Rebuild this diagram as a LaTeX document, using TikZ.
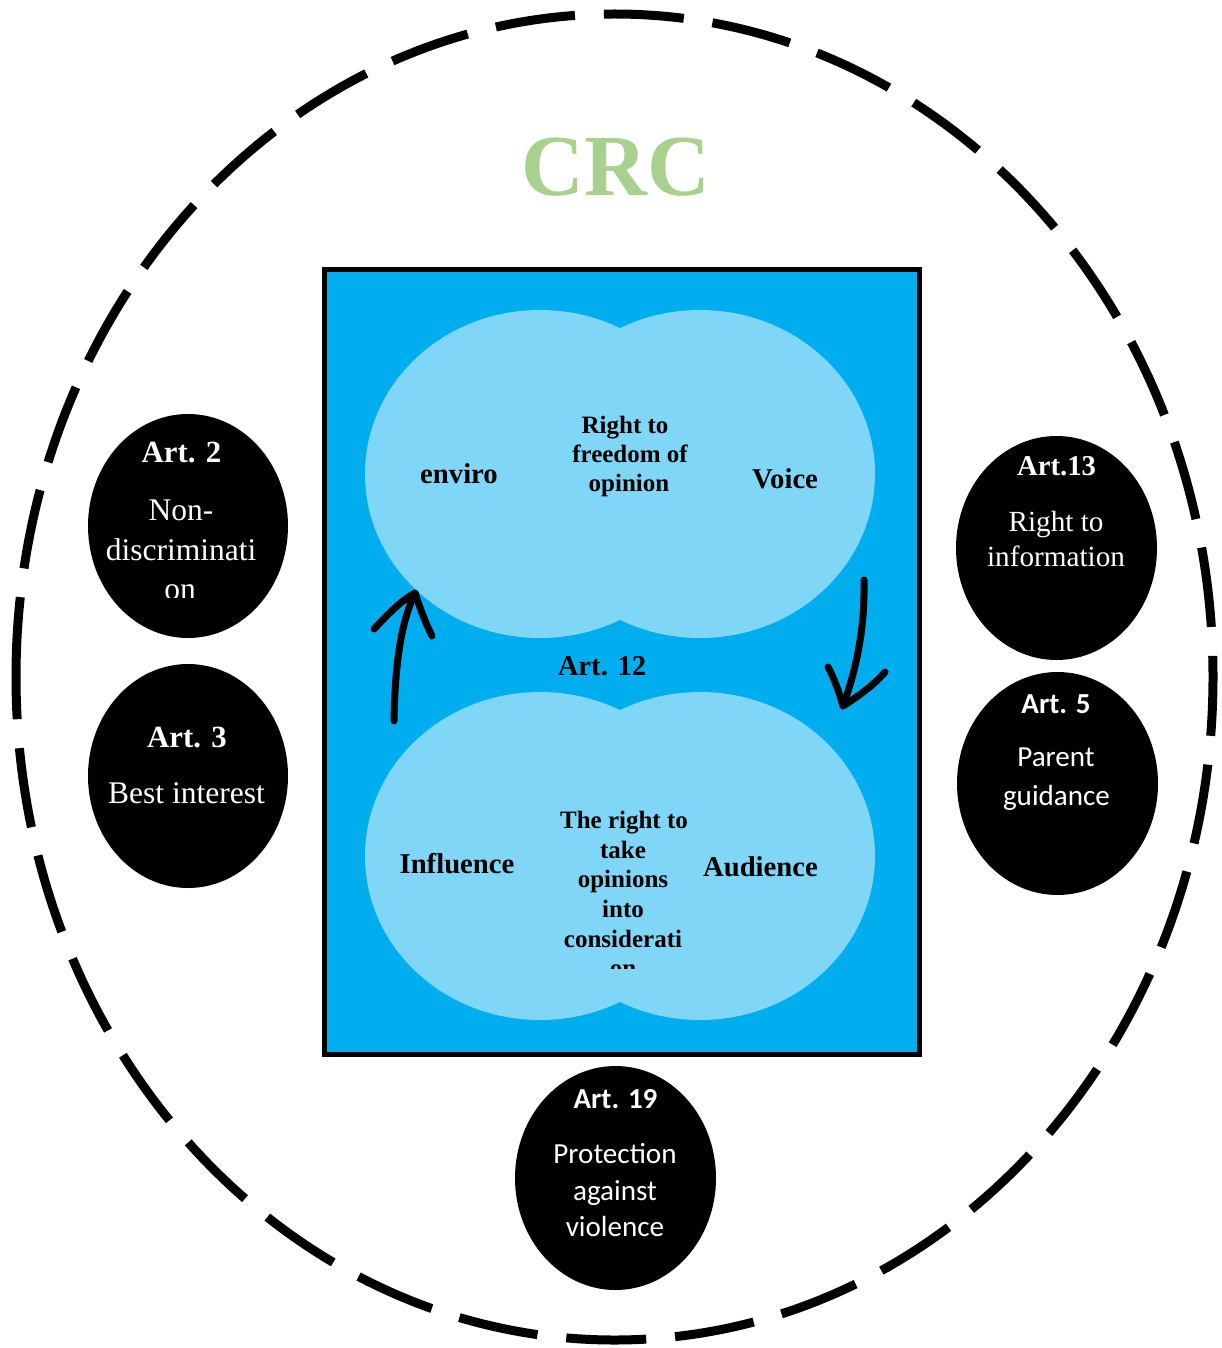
\documentclass[tikz,border=0pt]{standalone}
\usepackage{fontspec}
\setmainfont{Liberation Serif}
\newfontfamily\calibri{Carlito}
\usetikzlibrary{shapes.geometric}
\definecolor{crcgreen}{RGB}{169,209,142}
\definecolor{boxblue}{RGB}{0,174,239}
\definecolor{lobeblue}{RGB}{128,214,247}
\newcommand\fsz[1]{\fontsize{#1}{#1}\selectfont}
\tikzset{
  lobe/.style={ellipse, fill=lobeblue, minimum width=350pt, minimum height=328pt, inner sep=0pt},
  art/.style={ellipse, fill=black, inner sep=0pt},
  txt/.style={anchor=base, inner sep=0pt},
  lobebig/.style={txt, font=\bfseries\fsz{28.7}},
  lobesmall/.style={txt, font=\bfseries\fsz{25}},
  arthead/.style={txt, text=white, font=\bfseries\fsz{30.8}},
  artbody/.style={txt, text=white, font=\fsz{31.5}},
  calhead/.style={txt, text=white, font=\calibri\bfseries\fsz{29}},
  calbody/.style={txt, text=white, font=\calibri\fsz{29.1}},
  handarrow/.style={line width=7pt, line cap=round, line join=round}
}
\begin{document}
\begin{tikzpicture}[x=1pt,y=-1pt]
\useasboundingbox (0,0) rectangle (1222,1348);
\fill[white] (0,0) rectangle (1222,1348);
% outer dashed ellipse, starting at its left point and running over the top
\coordinate (ring) at (16,677);
\draw[line width=9pt, dash pattern=on 80pt off 29pt]
  (ring) arc[start angle=180, end angle=540, x radius=598.5, y radius=663];
% title
\node[txt, text=crcgreen, font=\bfseries\fsz{87}] (crc) at (616,196) {CRC};
% central box
\node[draw, line width=5pt, fill=boxblue, minimum width=595pt, minimum height=785pt, inner sep=0pt] (box) at (621.5,661.5) {};
% lobes
\node[lobe] (tl) at (540,474) {};
\node[lobe] (tr) at (700,474) {};
\node[lobe] (bl) at (540,856) {};
\node[lobe] (br) at (700,856) {};
% top lobe texts
\node[lobebig] (enviro) at (459,483) {enviro};
\node[lobesmall] (rt1) at (625,433) {Right to};
\node[lobesmall] (rt2) at (630,462.7) {freedom of};
\node[lobesmall] (rt3) at (629,491.7) {opinion};
\node[lobebig] (voice) at (785,488.5) {Voice};
\node[lobebig] (art12) at (602,675.5) {Art. 12};
% bottom lobe texts
\node[lobebig] (influence) at (457,873.7) {Influence};
\node[lobebig] (audience) at (760.5,876) {Audience};
\node[lobesmall] (tr1) at (624,828) {The right to};
\node[lobesmall] (tr2) at (623,858) {take};
\node[lobesmall] (tr3) at (623,887) {opinions};
\node[lobesmall] (tr4) at (623,917) {into};
\node[lobesmall] (tr5) at (623,947) {considerati};
\begin{scope}
\clip (540,950) rectangle (710,968);
\node[lobesmall] (tr6) at (623,976) {on};
\end{scope}
% arrows
\coordinate (la0) at (394,721);
\coordinate (lat) at (415,593);
\coordinate (lal) at (374,629);
\coordinate (lar) at (432,636);
\draw[handarrow] (la0) .. controls (395,660) and (402,620) .. (lat);
\draw[handarrow] (lal) .. controls (390,612) and (402,600) .. (lat) .. controls (420,608) and (425,622) .. (lar);
\coordinate (ra0) at (864,580);
\coordinate (rat) at (843,706);
\coordinate (ral) at (828,667);
\coordinate (rar) at (885,672);
\draw[handarrow] (ra0) .. controls (865,630) and (856,670) .. (rat);
\draw[handarrow] (ral) .. controls (835,680) and (840,695) .. (rat) .. controls (860,695) and (875,684) .. (rar);
% Art. 2
\node[art, minimum width=200pt, minimum height=224pt] (a2) at (188,526) {};
\node[arthead] (a2h) at (181.5,462.7) {Art. 2};
\node[artbody] (a2b1) at (181,520) {Non-};
\node[artbody] (a2b2) at (181,560) {discriminati};
\begin{scope}
\clip (100,570) rectangle (270,597);
\node[artbody] (a2b3) at (180,599) {on};
\end{scope}
% Art. 3
\node[art, minimum width=200pt, minimum height=224pt] (a3) at (188,776) {};
\node[arthead] (a3h) at (187,747) {Art. 3};
\node[artbody] (a3b) at (186.5,803.5) {Best interest};
% Art. 13
\node[art, minimum width=201pt, minimum height=224pt] (a13) at (1056.5,548) {};
\node[arthead, font=\bfseries\fsz{28.7}] (a13h) at (1056.5,475) {Art.13};
\node[artbody, font=\fsz{29.2}] (a13b1) at (1056,531.7) {Right to};
\node[artbody, font=\fsz{29.2}] (a13b2) at (1056,566.7) {information};
% Art. 5
\node[art, minimum width=201pt, minimum height=223pt] (a5) at (1057.5,783.5) {};
\node[calhead] (a5h) at (1056,713.3) {Art. 5};
\node[calbody] (a5b1) at (1056,766.7) {Parent};
\node[calbody] (a5b2) at (1056.5,805.5) {guidance};
% Art. 19
\node[art, minimum width=201pt, minimum height=224pt] (a19) at (615.5,1178) {};
\node[calhead] (a19h) at (615.5,1108.3) {Art. 19};
\node[calbody] (a19b1) at (615,1163.3) {Protection};
\node[calbody] (a19b2) at (615,1200) {against};
\node[calbody] (a19b3) at (615,1236.7) {violence};
\end{tikzpicture}
\end{document}
